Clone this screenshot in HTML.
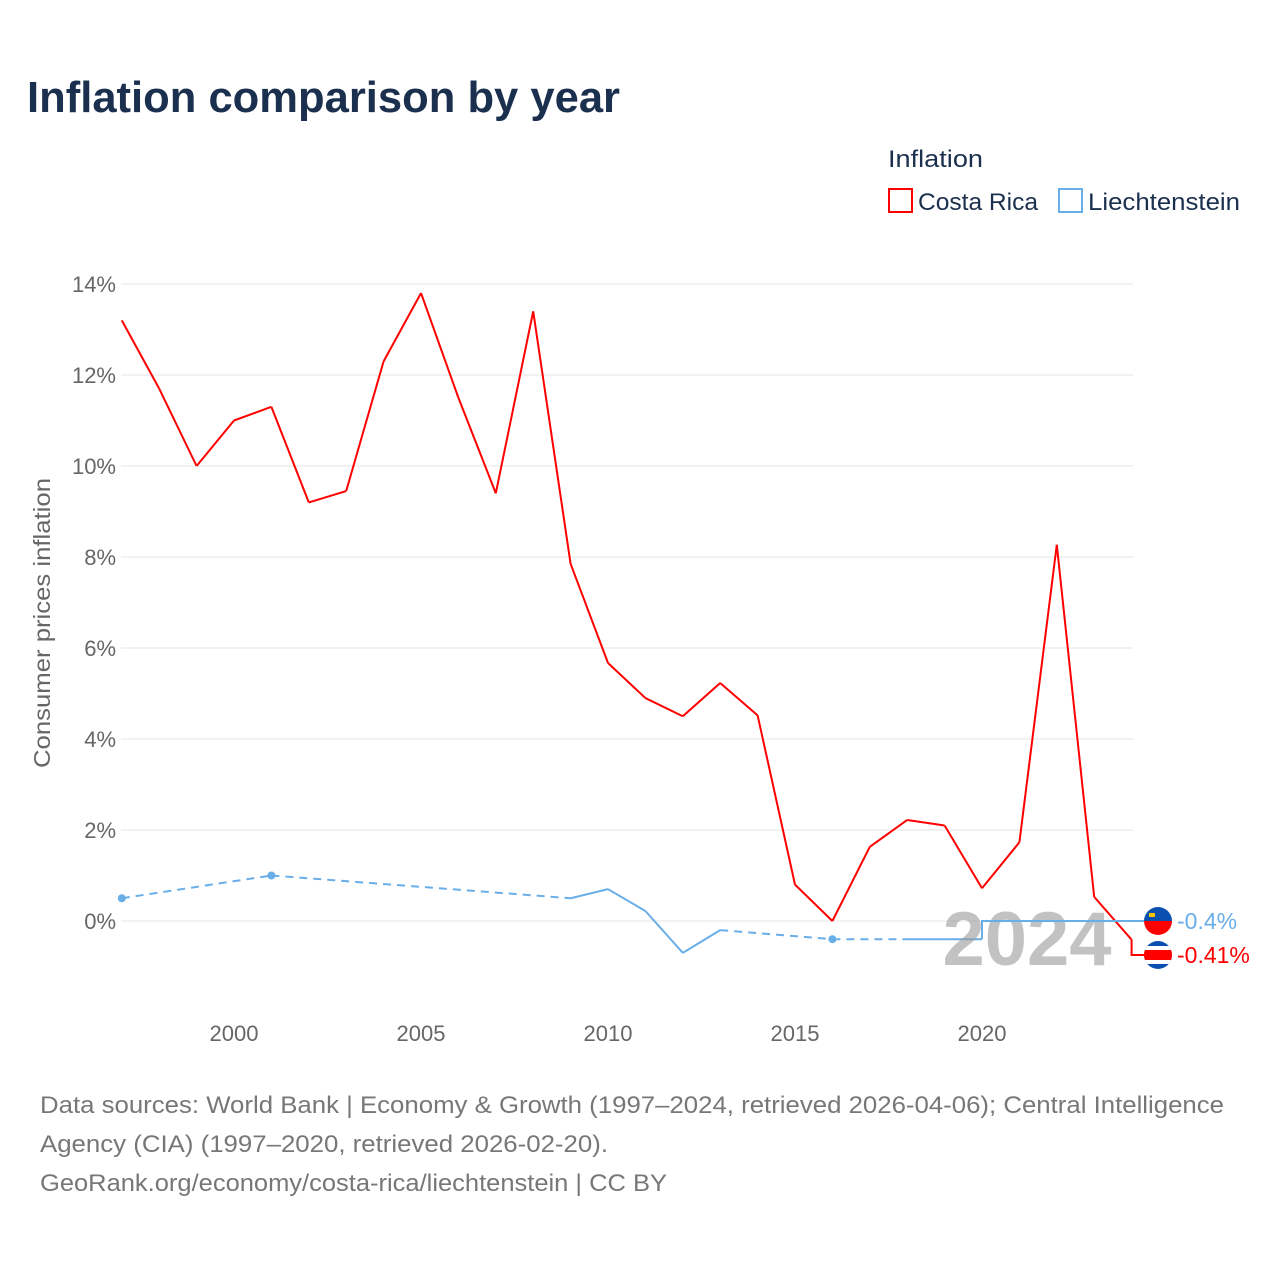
<!DOCTYPE html>
<html><head><meta charset="utf-8"><style>
html,body{margin:0;padding:0;background:#fff;}
svg{display:block;font-family:"Liberation Sans",sans-serif;}
</style></head><body>
<svg id="chart" width="1280" height="1280" viewBox="0 0 1280 1280">
<defs>
<clipPath id="flagclip-li"><circle cx="1158" cy="921" r="14"/></clipPath>
<clipPath id="flagclip-cr"><circle cx="1158" cy="955" r="14"/></clipPath>
</defs>
<text x="27" y="112" font-size="44" font-weight="bold" fill="#1b2f4e" textLength="593" lengthAdjust="spacingAndGlyphs">Inflation comparison by year</text>
<text x="888" y="167" font-size="24" fill="#1b2f4e" textLength="95" lengthAdjust="spacingAndGlyphs">Inflation</text>
<g>
<rect x="889" y="189" width="23" height="23" fill="none" stroke="#ff0000" stroke-width="2"/>
<text x="918" y="210" font-size="24" fill="#1b2f4e" textLength="120" lengthAdjust="spacingAndGlyphs">Costa Rica</text>
</g>
<g>
<rect x="1059" y="189" width="23" height="23" fill="none" stroke="#6aaee8" stroke-width="2"/>
<text x="1088" y="210" font-size="24" fill="#1b2f4e" textLength="152" lengthAdjust="spacingAndGlyphs">Liechtenstein</text>
</g>
<text transform="translate(50,623) rotate(-90)" text-anchor="middle" font-size="23" fill="#666" textLength="290" lengthAdjust="spacingAndGlyphs">Consumer prices inflation</text>
<g id="grid"></g><g id="marks"></g>
<text x="1027" y="965" text-anchor="middle" font-size="76" font-weight="bold" fill="#999" fill-opacity="0.6">2024</text>
<g id="labels"></g>
<text x="40" y="1113" font-size="24" fill="#777" textLength="1184" lengthAdjust="spacingAndGlyphs">Data sources: World Bank | Economy &amp; Growth (1997–2024, retrieved 2026-04-06); Central Intelligence</text>
<text x="40" y="1152" font-size="24" fill="#777" textLength="568" lengthAdjust="spacingAndGlyphs">Agency (CIA) (1997–2020, retrieved 2026-02-20).</text>
<text x="40" y="1191" font-size="24" fill="#777" textLength="627" lengthAdjust="spacingAndGlyphs">GeoRank.org/economy/costa-rica/liechtenstein | CC BY</text>
</svg>
<script>
const years = [1997,1998,1999,2000,2001,2002,2003,2004,2005,2006,2007,2008,2009,2010,2011,2012,2013,2014,2015,2016,2017,2018,2019,2020,2021,2022,2023,2024];
const costaRica = [13.2,11.7,10.0,11.0,11.3,9.2,9.45,12.3,13.8,11.5,9.4,13.4,7.85,5.67,4.9,4.5,5.23,4.52,0.8,0.0,1.63,2.22,2.1,0.72,1.73,8.27,0.53,-0.41];
const liechtenstein = [0.5,null,null,null,1.0,null,null,null,null,null,null,null,0.5,0.7,0.22,-0.7,-0.2,null,null,-0.4,null,-0.4,-0.4,-0.4,null,null,null,null];
const yTicks = [0,2,4,6,8,10,12,14];
const xTicks = [2000,2005,2010,2015,2020];
const x = y => 121.8 + (y-1997)*37.4;
const yS = v => 921 - v*45.5;
const NS='http://www.w3.org/2000/svg';
function mk(tag, attrs, parent){const e=document.createElementNS(NS,tag);for(const k in attrs)e.setAttribute(k,attrs[k]);parent.appendChild(e);return e;}
const grid=document.getElementById('grid'), marks=document.getElementById('marks'), labels=document.getElementById('labels');
yTicks.forEach(t=>{
  const l=mk('line',{x1:121,x2:1133,y1:yS(t),y2:yS(t),stroke:'#e6e6e6','stroke-width':1},grid);
  
  
  const tx=mk('text',{x:116,y:yS(t)+8,'text-anchor':'end','font-size':22,fill:'#666'},grid);
  tx.textContent=t+'%';
  
  
});
xTicks.forEach(t=>{
  const tx=mk('text',{x:x(t),y:1041,'text-anchor':'middle','font-size':22,fill:'#666'},grid);
  tx.textContent=t;
  
  
});
function drawSeries(vals,color,name){
  const pts=[];vals.forEach((v,i)=>{if(v!==null)pts.push([years[i],v]);});
  for(let i=0;i<pts.length-1;i++){
    const a=pts[i],b=pts[i+1];const gap=b[0]-a[0]>1;
    const s=mk('line',{x1:x(a[0]),y1:yS(a[1]),x2:x(b[0]),y2:yS(b[1]),stroke:color,'stroke-width':2,'stroke-dasharray':gap?'8 6':'none'},marks);
    
    
  }
  pts.forEach((p,i)=>{
    const prevGap=i===0||pts[i][0]-pts[i-1][0]>1, nextGap=i===pts.length-1||pts[i+1][0]-pts[i][0]>1;
    if(prevGap&&nextGap){const c=mk('circle',{cx:x(p[0]),cy:yS(p[1]),r:4,fill:color},marks);
      
      }
  });
  return pts[pts.length-1];
}
const crLast=drawSeries(costaRica,'#ff0000','costa-rica-line');
const liLast=drawSeries(liechtenstein,'#6aaee8','liechtenstein-line');
function endLabel(last,ly,color,name,text,flag){
  const p=mk('polyline',{points:`${x(last[0])},${yS(last[1])} ${x(last[0])},${ly} 1158,${ly}`,fill:'none',stroke:color,'stroke-width':2},labels);
  
  
  const g=mk('g',{},labels);
  
  
  flag(g,1158,ly);
  const t=mk('text',{x:1177,y:ly+8,'font-size':23,fill:color},labels);
  t.textContent=text;
  
  
}
endLabel(liLast,921,'#6aaee8','liechtenstein','-0.4%',(g,cx,cy)=>{
  g.setAttribute('clip-path','url(#flagclip-li)');
  mk('rect',{x:cx-14,y:cy-14,width:28,height:14,fill:'#0b4fb0'},g);
  mk('rect',{x:cx-14,y:cy,width:28,height:14,fill:'#ff0000'},g);
  mk('rect',{x:cx-9,y:cy-8,width:6,height:4,fill:'#f5c400'},g);
});
endLabel(crLast,955,'#ff0000','costa-rica','-0.41%',(g,cx,cy)=>{
  g.setAttribute('clip-path','url(#flagclip-cr)');
  mk('rect',{x:cx-14,y:cy-14,width:28,height:28,fill:'#0b4fb0'},g);
  mk('rect',{x:cx-14,y:cy-9,width:28,height:18,fill:'#fff'},g);
  mk('rect',{x:cx-14,y:cy-5,width:28,height:10,fill:'#ff0000'},g);
});
</script>
</body></html>
